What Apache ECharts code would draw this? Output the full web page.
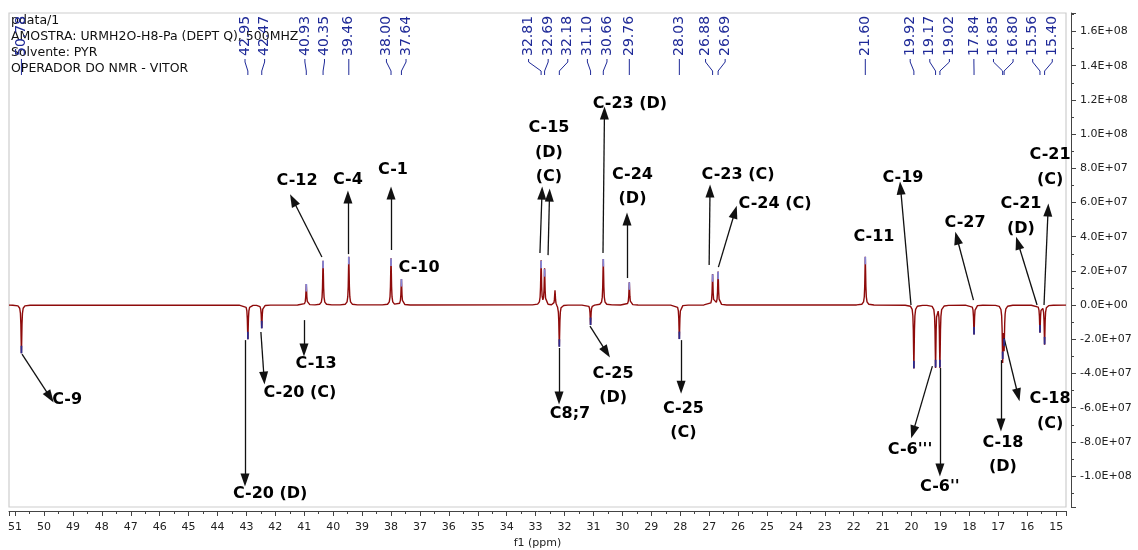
<!DOCTYPE html>
<html><head><meta charset="utf-8">
<script src="https://cdn.jsdelivr.net/npm/echarts@6/dist/echarts.min.js"></script>
<style>html,body{margin:0;padding:0;background:#fff}#c{width:1138px;height:550px}</style>
</head><body><div id="c"></div>
<script>
// ---------- data ----------
const headerLines = ['pdata/1', 'AMOSTRA: URMH2O-H8-Pa (DEPT Q), 500MHZ', 'Solvente: PYR', 'OPERADOR DO NMR - VITOR'];
const xAxisName = 'f1 (ppm)';
const xRange = [14.66, 51.21];
const yRange = [-1.181e8, 1.708e8];

// picked (labelled) peaks: ppm and intensity
const peakPpm = [50.78, 42.95, 42.47, 40.93, 40.35, 39.46, 38.00, 37.64, 32.81, 32.69, 32.18, 31.10, 30.66, 29.76,
  28.03, 26.88, 26.69, 21.60, 19.92, 19.17, 19.02, 17.84, 16.85, 16.80, 15.56, 15.40];
const peakHeight = [-2.82e7, -2.0e7, -1.36e7, 1.23e7, 2.59e7, 2.82e7, 2.73e7, 1.52e7, 2.59e7, 2.10e7, -2.44e7, -1.17e7, 2.69e7, 1.33e7,
  -1.99e7, 1.80e7, 1.95e7, 2.82e7, -3.70e7, -3.64e7, -3.64e7, -1.72e7, -3.16e7, -2.40e7, -1.60e7, -2.30e7];
const peakLabels = ['50.78', '42.95', '42.47', '40.93', '40.35', '39.46', '38.00', '37.64', '32.81', '32.69', '32.18', '31.10', '30.66', '29.76',
  '28.03', '26.88', '26.69', '21.60', '19.92', '19.17', '19.02', '17.84', '16.85', '16.80', '15.56', '15.40'];
// unpicked peaks
const otherPpm = [32.33];
const otherHeight = [0.88e7];

// assignment annotations (text anchor in ppm / intensity)
const annoText = ['C-9', 'C-20 (D)', 'C-20 (C)', 'C-13', 'C-12', 'C-4', 'C-1', 'C-10', 'C-15\n(D)\n(C)', 'C-23 (D)', 'C-24\n(D)',
  'C-23 (C)', 'C-24 (C)', 'C-11', 'C-19', "C-6'''", "C-6''", 'C-27', 'C-18\n(D)', 'C-18\n(C)', 'C-21\n(D)', 'C-21\n(C)',
  'C8;7', 'C-25\n(D)', 'C-25\n(C)'];
const annoPpm = [49.20, 42.18, 41.15, 40.59, 41.25, 39.49, 37.93, 37.03, 32.54, 29.74, 29.65, 26.00, 24.72, 21.30, 20.30,
  20.05, 19.02, 18.15, 16.84, 15.21, 16.22, 15.21, 31.81, 30.32, 27.89];
const annoVal = [-5.56e7, -11.05e7, -5.15e7, -3.45e7, 7.25e7, 7.31e7, 7.89e7, 2.16e7, 8.92e7, 11.75e7, 6.90e7, 7.60e7, 5.91e7,
  3.98e7, 7.43e7, -8.48e7, -10.64e7, 4.80e7, -8.77e7, -6.23e7, 5.18e7, 8.04e7, -6.37e7, -4.71e7, -6.78e7];

// arrows: from [ppm, value] to [ppm, value]
const arrowFrom = [[50.76, -2.87e7], [43.05, -2.05e7], [42.50, -1.58e7], [41.01, -0.88e7], [40.39, 2.81e7], [39.49, 2.98e7],
  [38.00, 3.22e7], [32.85, 3.04e7], [32.57, 2.92e7], [30.67, 3.04e7], [29.84, 1.58e7], [27.00, 2.34e7], [26.68, 2.22e7],
  [20.02, 0.0], [19.28, -3.57e7], [19.02, -3.68e7], [17.86, 0.29e7], [16.91, -3.22e7], [16.80, -1.93e7], [15.66, 0.0],
  [15.42, 0.0], [32.19, -2.51e7], [31.12, -1.23e7], [27.97, -2.05e7]];
const arrowTo = [[49.79, -5.38e7], [43.05, -10.23e7], [42.39, -4.27e7], [41.01, -2.63e7], [41.39, 6.14e7], [39.49, 6.32e7],
  [38.00, 6.55e7], [32.78, 6.55e7], [32.52, 6.43e7], [30.62, 11.23e7], [29.84, 5.03e7], [26.97, 6.67e7], [26.11, 5.44e7],
  [20.38, 6.84e7], [19.95, -7.43e7], [19.02, -9.65e7], [18.43, 3.92e7], [16.91, -7.02e7], [16.32, -5.26e7], [16.32, 3.63e7],
  [15.28, 5.56e7], [32.19, -5.44e7], [30.55, -2.75e7], [27.97, -4.80e7]];

// ---------- build spectrum from the peak list (Lorentzian lines) ----------
const allPpm = peakPpm.concat(otherPpm);
const allH = peakHeight.concat(otherHeight);
const HW = 0.016;
const offs = [-0.3, -0.12, -0.06, -0.035, -0.02, -0.01, 0, 0.01, 0.02, 0.035, 0.06, 0.12, 0.3];
let xs = [xRange[0], xRange[1]];
allPpm.forEach(p => offs.forEach(o => xs.push(+(p + o).toFixed(4))));
xs = Array.from(new Set(xs)).sort((a, b) => a - b);
const spectrum = xs.map(x => {
  let y = 0;
  for (let i = 0; i < allPpm.length; i++) { const d = x - allPpm[i]; y += allH[i] * HW * HW / (d * d + HW * HW); }
  return [x, y];
});

function sci(v) {
  if (Math.abs(v) < 1) return '0.0E+00';
  const e = Math.floor(Math.log10(Math.abs(v)) + 1e-9);
  const m = v / Math.pow(10, e);
  return m.toFixed(1) + 'E' + (e < 0 ? '-' : '+') + String(Math.abs(e)).padStart(2, '0');
}

const FONT = '"DejaVu Sans", Verdana, sans-serif';
const NAVY = '#1f2a98';

const option = {
  animation: false,
  backgroundColor: '#ffffff',
  grid: { left: 9, right: 72, top: 13, bottom: 43, show: true, borderColor: '#cdcdcd', borderWidth: 1.2,
    backgroundColor: 'transparent', containLabel: false, outerBoundsMode: 'none' },
  xAxis: {
    type: 'value', inverse: true, min: xRange[0], max: xRange[1], splitNumber: 36, minInterval: 1, maxInterval: 1,
    offset: 4,
    axisLine: { show: true, onZero: false, lineStyle: { color: '#444', width: 1 } },
    axisTick: { show: true, inside: false, length: 5, lineStyle: { color: '#444' } },
    minorTick: { show: true, splitNumber: 2, length: 3, lineStyle: { color: '#444' } },
    axisLabel: { show: true, showMinLabel: false, showMaxLabel: false, margin: 11, fontSize: 11, fontFamily: FONT, color: '#222',
      formatter: v => (Math.abs(v - Math.round(v)) < 1e-6 ? String(Math.round(v)) : '') },
    splitLine: { show: false }, minorSplitLine: { show: false },
    name: xAxisName, nameLocation: 'middle', nameGap: 25,
    nameTextStyle: { fontSize: 11, fontFamily: FONT, color: '#222' }
  },
  yAxis: {
    type: 'value', position: 'right', min: yRange[0], max: yRange[1], splitNumber: 14, minInterval: 2e7, maxInterval: 2e7,
    offset: 5,
    axisLine: { show: true, onZero: false, lineStyle: { color: '#444', width: 1 } },
    axisTick: { show: true, inside: false, length: 5, lineStyle: { color: '#444' } },
    minorTick: { show: true, splitNumber: 2, length: 3, lineStyle: { color: '#444' } },
    axisLabel: { show: true, showMinLabel: false, showMaxLabel: false, margin: 9, fontSize: 11, fontFamily: FONT, color: '#222',
      formatter: v => sci(v) },
    splitLine: { show: false }, minorSplitLine: { show: false }
  },
  series: [
    {
      type: 'line', data: spectrum, showSymbol: false, symbol: 'none', smooth: false, sampling: null, clip: true,
      lineStyle: { color: '#8e0b0b', width: 1.4 }, z: 3, silent: true,
      markLine: {
        silent: true, animation: false, symbol: ['none', 'triangle'], symbolSize: [9, 13],
        lineStyle: { color: '#111', width: 1.3, type: 'solid' }, label: { show: false },
        emphasis: { disabled: true },
        data: arrowFrom.map((f, i) => [{ coord: f }, { coord: arrowTo[i] }])
      },
      markPoint: {
        silent: true, animation: false, symbol: 'rect', symbolSize: 0,
        label: { show: true, position: 'inside', formatter: '{b}', fontFamily: FONT, fontWeight: 'bold', fontSize: 16,
          color: '#000', lineHeight: 24.5, align: 'center' },
        data: annoText.map((t, i) => ({ name: t, coord: [annoPpm[i], annoVal[i]] }))
      }
    },
    {
      type: 'custom', silent: true, z: 5,
      data: peakPpm.map((p, i) => [p, peakHeight[i]]),
      renderItem: (params, api) => {
        const p = api.coord([api.value(0), api.value(1)]);
        const s = api.value(1) > 0 ? 1 : -1;
        return { type: 'line', shape: { x1: p[0], y1: p[1], x2: p[0], y2: p[1] + s * 7.5 },
          style: { stroke: s > 0 ? '#8585d6' : '#2c2c8e', lineWidth: 1.8 } };
      }
    }
  ]
};

const chart = echarts.init(document.getElementById('c'), null, { renderer: 'canvas' });
chart.setOption(option);

// ---------- peak labels along the top (positions from the x scale) ----------
const px = peakPpm.map(p => chart.convertToPixel({ xAxisIndex: 0 }, p));
const order = px.map((x, i) => i).sort((a, b) => px[a] - px[b]);
const GAP = 19.6;
let clusters = order.map(i => ({ idx: [i], sum: px[i] }));
let changed = true;
while (changed) {
  changed = false;
  for (let k = 0; k < clusters.length - 1; k++) {
    const a = clusters[k], b = clusters[k + 1];
    const aEnd = a.sum / a.idx.length + (a.idx.length - 1) / 2 * GAP;
    const bStart = b.sum / b.idx.length - (b.idx.length - 1) / 2 * GAP;
    if (bStart - aEnd < GAP) {
      clusters.splice(k, 2, { idx: a.idx.concat(b.idx), sum: a.sum + b.sum });
      changed = true; break;
    }
  }
}
const lx = new Array(px.length);
clusters.forEach(c => {
  const n = c.idx.length, ctr = c.sum / n;
  c.idx.forEach((i, k) => { lx[i] = ctr + (k - (n - 1) / 2) * GAP; });
});

const graphics = [];
headerLines.forEach((t, i) => {
  graphics.push({ type: 'text', x: 11, y: 21.2 + i * 15.9, z: 10, silent: true,
    style: { text: t, font: '12.5px "DejaVu Sans"', fill: '#111', textAlign: 'left', textVerticalAlign: 'middle', align: 'left', verticalAlign: 'middle' } });
});
peakPpm.forEach((p, i) => {
  graphics.push({ type: 'text', x: lx[i], y: 56, rotation: Math.PI / 2, z: 11, silent: true,
    style: { text: peakLabels[i], font: '14px "DejaVu Sans"', fill: NAVY, textAlign: 'left', textVerticalAlign: 'middle', align: 'left', verticalAlign: 'middle' } });
  graphics.push({ type: 'polyline', z: 11, silent: true,
    shape: { points: [[lx[i], 59], [lx[i], 62], [px[i], 71], [px[i], 75]] },
    style: { stroke: NAVY, lineWidth: 1, fill: null } });
});
chart.setOption({ graphic: graphics });
</script>
</body></html>
